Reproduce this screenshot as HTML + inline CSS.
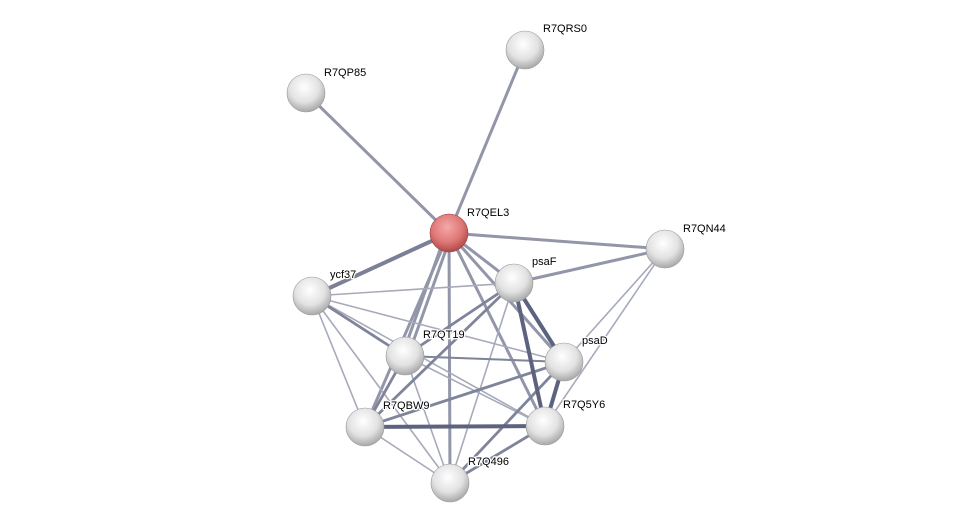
<!DOCTYPE html>
<html><head><style>
html,body{margin:0;padding:0;background:#fff;}
svg{display:block;}
text{font-family:"Liberation Sans",sans-serif;font-size:11px;fill:#000;stroke:#fff;stroke-width:2.5px;paint-order:stroke;}
</style></head><body>
<svg width="975" height="527" viewBox="0 0 975 527" xmlns="http://www.w3.org/2000/svg">
<defs>
<radialGradient id="g" cx="0.45" cy="0.35" r="0.65">
<stop offset="0" stop-color="#ffffff"/><stop offset="0.6" stop-color="#e2e2e2"/><stop offset="1" stop-color="#a8a8a8"/>
</radialGradient>
<radialGradient id="r" cx="0.45" cy="0.35" r="0.65">
<stop offset="0" stop-color="#f4a8a8"/><stop offset="0.6" stop-color="#e07878"/><stop offset="1" stop-color="#b04848"/>
</radialGradient>
</defs>
<g stroke-linecap="round">
<g stroke="#7f849a" stroke-width="3" opacity="0.85">
<line x1="449" y1="233" x2="306" y2="93"/>
<line x1="449" y1="233" x2="525" y2="50"/>
<line x1="449" y1="233" x2="665" y2="249"/>
<line x1="449" y1="233" x2="312" y2="296" stroke="#646a85" stroke-width="4"/>
<line x1="449" y1="233" x2="514" y2="283"/>
<line x1="446" y1="233" x2="402" y2="356"/>
<line x1="452" y1="233" x2="408" y2="356"/>
<line x1="449" y1="233" x2="365" y2="427"/>
<line x1="449" y1="233" x2="450" y2="483"/>
<line x1="449" y1="233" x2="564" y2="362"/>
<line x1="449" y1="233" x2="545" y2="426"/>
<line x1="665" y1="249" x2="514" y2="283"/>
</g>
<g stroke="#a6aabb" stroke-width="1.6">
<line x1="665" y1="249" x2="564" y2="362"/>
<line x1="665" y1="249" x2="545" y2="426"/>
<line x1="312" y1="296" x2="514" y2="283"/>
<line x1="312" y1="296" x2="564" y2="362"/>
<line x1="312" y1="296" x2="545" y2="426"/>
<line x1="312" y1="296" x2="365" y2="427"/>
<line x1="312" y1="296" x2="450" y2="483"/>
<line x1="514" y1="283" x2="450" y2="483"/>
<line x1="405" y1="356" x2="564" y2="362"/>
<line x1="405" y1="356" x2="545" y2="426"/>
<line x1="405" y1="356" x2="450" y2="483"/>
<line x1="365" y1="427" x2="450" y2="483"/>
</g>
<g stroke="#7f849a" stroke-width="2.8">
<line x1="312" y1="296" x2="405" y2="356"/>
<line x1="514" y1="283" x2="405" y2="356"/>
<line x1="514" y1="283" x2="365" y2="427"/>
<line x1="405" y1="356" x2="365" y2="427"/>
<line x1="405" y1="356" x2="564" y2="362" stroke-width="2"/>
<line x1="564" y1="362" x2="365" y2="427"/>
<line x1="564" y1="362" x2="450" y2="483"/>
<line x1="545" y1="426" x2="450" y2="483"/>
</g>
<g stroke="#5d637e" stroke-width="4">
<line x1="514" y1="283" x2="564" y2="362"/>
<line x1="514" y1="283" x2="545" y2="426"/>
<line x1="564" y1="362" x2="545" y2="426"/>
<line x1="365" y1="427" x2="545" y2="426"/>
</g>
</g>
<g stroke="#999" stroke-width="0.6">
<circle cx="306" cy="93" r="19" fill="url(#g)"/>
<circle cx="525" cy="50" r="19" fill="url(#g)"/>
<circle cx="449" cy="233" r="19" fill="url(#r)" stroke="#9a4040"/>
<circle cx="665" cy="249" r="19" fill="url(#g)"/>
<circle cx="312" cy="296" r="19" fill="url(#g)"/>
<circle cx="514" cy="283" r="19" fill="url(#g)"/>
<circle cx="405" cy="356" r="19" fill="url(#g)"/>
<circle cx="564" cy="362" r="19" fill="url(#g)"/>
<circle cx="365" cy="427" r="19" fill="url(#g)"/>
<circle cx="545" cy="426" r="19" fill="url(#g)"/>
<circle cx="450" cy="483" r="19" fill="url(#g)"/>
</g>
<text x="543" y="32">R7QRS0</text>
<text x="324" y="76">R7QP85</text>
<text x="467" y="216">R7QEL3</text>
<text x="683" y="232">R7QN44</text>
<text x="330" y="278">ycf37</text>
<text x="532" y="265">psaF</text>
<text x="423" y="338">R7QT19</text>
<text x="582" y="344">psaD</text>
<text x="383" y="409">R7QBW9</text>
<text x="563" y="408">R7Q5Y6</text>
<text x="468" y="465">R7Q496</text>
</svg>
</body></html>
